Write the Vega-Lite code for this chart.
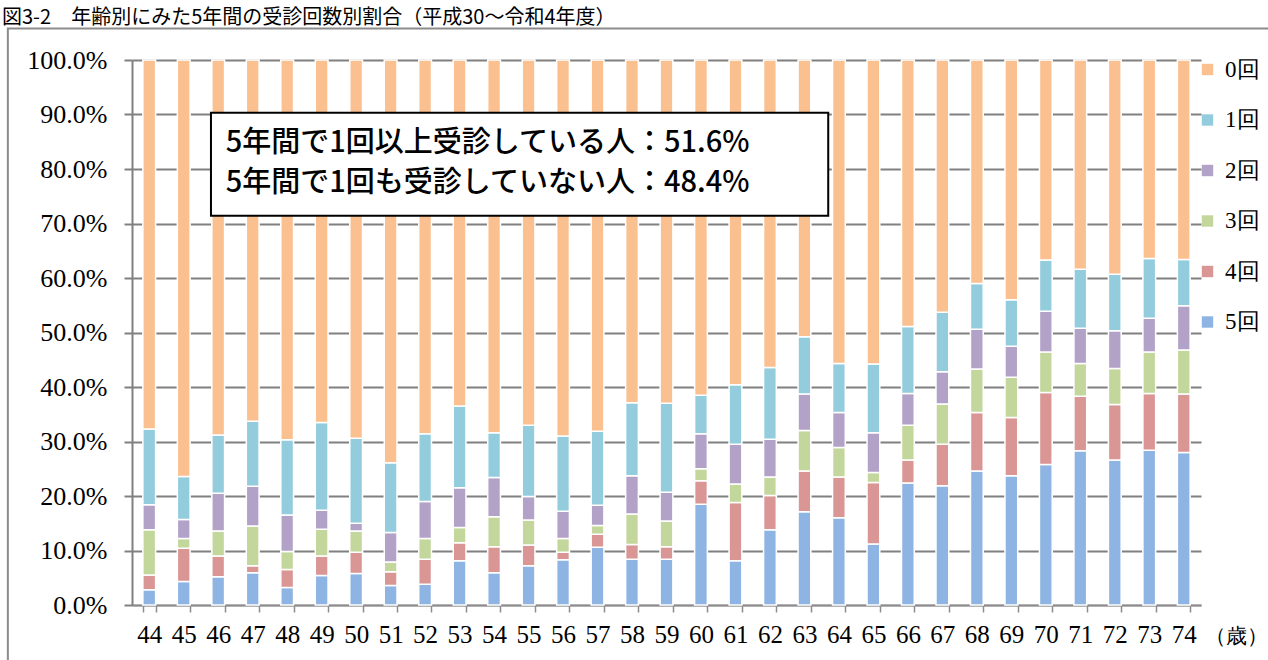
{
  "$schema": "https://vega.github.io/schema/vega-lite/v6.json",
  "width": 1069,
  "height": 545,
  "autosize": {"type": "none"},
  "padding": {"left": 132, "top": 60, "right": 67, "bottom": 55},
  "background": "white",
  "title": {
    "text": "図3-2　年齢別にみた5年間の受診回数別割合（平成30～令和4年度）",
    "anchor": "start",
    "frame": "group",
    "dx": -130,
    "dy": 23,
    "offset": 2,
    "baseline": "bottom",
    "font": "Noto Sans CJK JP",
    "fontSize": 20,
    "fontWeight": "normal",
    "color": "#000000"
  },
  "config": {"view": {"stroke": null}},
  "resolve": {"scale": {"x": "independent", "y": "independent"}},
  "layer": [
    {
      "data": {"values": [{}]},
      "mark": {"type": "rect", "fillOpacity": 0, "stroke": "#8c8c8c", "strokeWidth": 2},
      "encoding": {
        "x": {"datum": 39.9, "type": "quantitative", "scale": {"domain": [43.5, 74.5], "zero": false, "nice": false}, "axis": null},
        "x2": {"datum": 76.8},
        "y": {"datum": 1.058, "type": "quantitative", "scale": {"domain": [0, 1], "nice": false}, "axis": null},
        "y2": {"datum": -0.3}
      }
    },
    {
      "data": {"values": [
        {"age":44,"cat":"5回","v":2.8},{"age":44,"cat":"4回","v":2.7},{"age":44,"cat":"3回","v":8.3},{"age":44,"cat":"2回","v":4.6},{"age":44,"cat":"1回","v":13.9},{"age":44,"cat":"0回","v":67.7},
        {"age":45,"cat":"5回","v":4.3},{"age":45,"cat":"4回","v":6.1},{"age":45,"cat":"3回","v":1.8},{"age":45,"cat":"2回","v":3.5},{"age":45,"cat":"1回","v":7.9},{"age":45,"cat":"0回","v":76.4},
        {"age":46,"cat":"5回","v":5.2},{"age":46,"cat":"4回","v":3.8},{"age":46,"cat":"3回","v":4.6},{"age":46,"cat":"2回","v":6.9},{"age":46,"cat":"1回","v":10.7},{"age":46,"cat":"0回","v":68.8},
        {"age":47,"cat":"5回","v":5.9},{"age":47,"cat":"4回","v":1.3},{"age":47,"cat":"3回","v":7.3},{"age":47,"cat":"2回","v":7.3},{"age":47,"cat":"1回","v":11.9},{"age":47,"cat":"0回","v":66.3},
        {"age":48,"cat":"5回","v":3.2},{"age":48,"cat":"4回","v":3.3},{"age":48,"cat":"3回","v":3.3},{"age":48,"cat":"2回","v":6.7},{"age":48,"cat":"1回","v":13.8},{"age":48,"cat":"0回","v":69.7},
        {"age":49,"cat":"5回","v":5.4},{"age":49,"cat":"4回","v":3.6},{"age":49,"cat":"3回","v":4.9},{"age":49,"cat":"2回","v":3.5},{"age":49,"cat":"1回","v":16.1},{"age":49,"cat":"0回","v":66.5},
        {"age":50,"cat":"5回","v":5.8},{"age":50,"cat":"4回","v":3.9},{"age":50,"cat":"3回","v":3.9},{"age":50,"cat":"2回","v":1.4},{"age":50,"cat":"1回","v":15.6},{"age":50,"cat":"0回","v":69.4},
        {"age":51,"cat":"5回","v":3.6},{"age":51,"cat":"4回","v":2.5},{"age":51,"cat":"3回","v":1.8},{"age":51,"cat":"2回","v":5.4},{"age":51,"cat":"1回","v":12.8},{"age":51,"cat":"0回","v":73.9},
        {"age":52,"cat":"5回","v":3.8},{"age":52,"cat":"4回","v":4.6},{"age":52,"cat":"3回","v":3.8},{"age":52,"cat":"2回","v":6.8},{"age":52,"cat":"1回","v":12.4},{"age":52,"cat":"0回","v":68.6},
        {"age":53,"cat":"5回","v":8.1},{"age":53,"cat":"4回","v":3.3},{"age":53,"cat":"3回","v":2.8},{"age":53,"cat":"2回","v":7.3},{"age":53,"cat":"1回","v":15.0},{"age":53,"cat":"0回","v":63.5},
        {"age":54,"cat":"5回","v":5.9},{"age":54,"cat":"4回","v":4.8},{"age":54,"cat":"3回","v":5.5},{"age":54,"cat":"2回","v":7.2},{"age":54,"cat":"1回","v":8.2},{"age":54,"cat":"0回","v":68.4},
        {"age":55,"cat":"5回","v":7.2},{"age":55,"cat":"4回","v":3.8},{"age":55,"cat":"3回","v":4.6},{"age":55,"cat":"2回","v":4.3},{"age":55,"cat":"1回","v":13.1},{"age":55,"cat":"0回","v":67.0},
        {"age":56,"cat":"5回","v":8.3},{"age":56,"cat":"4回","v":1.4},{"age":56,"cat":"3回","v":2.5},{"age":56,"cat":"2回","v":5.0},{"age":56,"cat":"1回","v":13.8},{"age":56,"cat":"0回","v":69.0},
        {"age":57,"cat":"5回","v":10.6},{"age":57,"cat":"4回","v":2.4},{"age":57,"cat":"3回","v":1.6},{"age":57,"cat":"2回","v":3.7},{"age":57,"cat":"1回","v":13.6},{"age":57,"cat":"0回","v":68.1},
        {"age":58,"cat":"5回","v":8.4},{"age":58,"cat":"4回","v":2.7},{"age":58,"cat":"3回","v":5.6},{"age":58,"cat":"2回","v":7.0},{"age":58,"cat":"1回","v":13.4},{"age":58,"cat":"0回","v":62.9},
        {"age":59,"cat":"5回","v":8.4},{"age":59,"cat":"4回","v":2.3},{"age":59,"cat":"3回","v":4.7},{"age":59,"cat":"2回","v":5.3},{"age":59,"cat":"1回","v":16.3},{"age":59,"cat":"0回","v":63.0},
        {"age":60,"cat":"5回","v":18.5},{"age":60,"cat":"4回","v":4.3},{"age":60,"cat":"3回","v":2.2},{"age":60,"cat":"2回","v":6.4},{"age":60,"cat":"1回","v":7.1},{"age":60,"cat":"0回","v":61.5},
        {"age":61,"cat":"5回","v":8.1},{"age":61,"cat":"4回","v":10.7},{"age":61,"cat":"3回","v":3.4},{"age":61,"cat":"2回","v":7.3},{"age":61,"cat":"1回","v":10.9},{"age":61,"cat":"0回","v":59.6},
        {"age":62,"cat":"5回","v":13.8},{"age":62,"cat":"4回","v":6.3},{"age":62,"cat":"3回","v":3.4},{"age":62,"cat":"2回","v":6.9},{"age":62,"cat":"1回","v":13.2},{"age":62,"cat":"0回","v":56.4},
        {"age":63,"cat":"5回","v":17.1},{"age":63,"cat":"4回","v":7.5},{"age":63,"cat":"3回","v":7.4},{"age":63,"cat":"2回","v":6.7},{"age":63,"cat":"1回","v":10.5},{"age":63,"cat":"0回","v":50.8},
        {"age":64,"cat":"5回","v":16.0},{"age":64,"cat":"4回","v":7.5},{"age":64,"cat":"3回","v":5.4},{"age":64,"cat":"2回","v":6.4},{"age":64,"cat":"1回","v":9.0},{"age":64,"cat":"0回","v":55.7},
        {"age":65,"cat":"5回","v":11.2},{"age":65,"cat":"4回","v":11.3},{"age":65,"cat":"3回","v":1.8},{"age":65,"cat":"2回","v":7.3},{"age":65,"cat":"1回","v":12.6},{"age":65,"cat":"0回","v":55.8},
        {"age":66,"cat":"5回","v":22.4},{"age":66,"cat":"4回","v":4.2},{"age":66,"cat":"3回","v":6.4},{"age":66,"cat":"2回","v":5.8},{"age":66,"cat":"1回","v":12.3},{"age":66,"cat":"0回","v":48.9},
        {"age":67,"cat":"5回","v":21.9},{"age":67,"cat":"4回","v":7.6},{"age":67,"cat":"3回","v":7.4},{"age":67,"cat":"2回","v":5.9},{"age":67,"cat":"1回","v":10.9},{"age":67,"cat":"0回","v":46.3},
        {"age":68,"cat":"5回","v":24.6},{"age":68,"cat":"4回","v":10.7},{"age":68,"cat":"3回","v":8.0},{"age":68,"cat":"2回","v":7.3},{"age":68,"cat":"1回","v":8.4},{"age":68,"cat":"0回","v":41.0},
        {"age":69,"cat":"5回","v":23.7},{"age":69,"cat":"4回","v":10.7},{"age":69,"cat":"3回","v":7.4},{"age":69,"cat":"2回","v":5.7},{"age":69,"cat":"1回","v":8.5},{"age":69,"cat":"0回","v":44.0},
        {"age":70,"cat":"5回","v":25.8},{"age":70,"cat":"4回","v":13.2},{"age":70,"cat":"3回","v":7.4},{"age":70,"cat":"2回","v":7.5},{"age":70,"cat":"1回","v":9.4},{"age":70,"cat":"0回","v":36.7},
        {"age":71,"cat":"5回","v":28.3},{"age":71,"cat":"4回","v":10.0},{"age":71,"cat":"3回","v":6.0},{"age":71,"cat":"2回","v":6.5},{"age":71,"cat":"1回","v":10.8},{"age":71,"cat":"0回","v":38.4},
        {"age":72,"cat":"5回","v":26.6},{"age":72,"cat":"4回","v":10.2},{"age":72,"cat":"3回","v":6.6},{"age":72,"cat":"2回","v":6.9},{"age":72,"cat":"1回","v":10.4},{"age":72,"cat":"0回","v":39.3},
        {"age":73,"cat":"5回","v":28.4},{"age":73,"cat":"4回","v":10.4},{"age":73,"cat":"3回","v":7.6},{"age":73,"cat":"2回","v":6.2},{"age":73,"cat":"1回","v":11.0},{"age":73,"cat":"0回","v":36.4},
        {"age":74,"cat":"5回","v":28.0},{"age":74,"cat":"4回","v":10.7},{"age":74,"cat":"3回","v":8.1},{"age":74,"cat":"2回","v":8.1},{"age":74,"cat":"1回","v":8.5},{"age":74,"cat":"0回","v":36.6}
      ]},
      "mark": {"type": "bar", "stroke": "#ffffff", "strokeWidth": 1.5},
      "encoding": {
        "x": {
          "field": "age", "type": "ordinal",
          "scale": {"paddingInner": 0.63, "paddingOuter": 0.315},
          "axis": {
            "labelAngle": 0, "labelFont": "Liberation Serif", "labelFontSize": 25, "labelColor": "#000000",
            "labelPadding": 10, "tickSize": 7, "tickBand": "extent", "tickColor": "#8c8c8c", "tickWidth": 1.5,
            "domainColor": "#8c8c8c", "domainWidth": 1.5,
            "title": "（歳）", "titleX": 1104, "titleY": 31, "titleAlign": "center", "titleBaseline": "middle",
            "titleFont": "Liberation Serif", "titleFontSize": 21, "titleFontWeight": "normal", "titleColor": "#000000"
          }
        },
        "y": {
          "field": "v", "type": "quantitative", "stack": "normalize",
          "scale": {"domain": [0, 1], "nice": false},
          "axis": {
            "values": [0, 0.1, 0.2, 0.3, 0.4, 0.5, 0.6, 0.7, 0.8, 0.9, 1.0],
            "labelExpr": "format(datum.value, '.1%')", "title": null,
            "labelFont": "Liberation Serif", "labelFontSize": 26, "labelColor": "#000000", "labelPadding": 17,
            "tickSize": 8, "tickColor": "#808080", "tickWidth": 2,
            "domainColor": "#808080", "domainWidth": 2,
            "grid": true, "gridColor": "#808080", "gridWidth": 2, "gridOpacity": 1
          }
        },
        "color": {
          "field": "cat", "type": "nominal",
          "scale": {
            "domain": ["0回", "1回", "2回", "3回", "4回", "5回"],
            "range": ["#FAC090", "#93CDDD", "#B3A2C7", "#C3D69B", "#D99694", "#8EB4E3"]
          },
          "legend": {
            "orient": "none", "legendX": 1064, "legendY": -2, "title": null, "padding": 0,
            "symbolType": "square", "symbolSize": 130, "symbolStrokeWidth": 0,
            "labelFont": "Liberation Serif", "labelFontSize": 23, "labelColor": "#000000",
            "labelOffset": 6, "rowPadding": 26.5
          }
        },
        "order": {"field": "cat", "sort": "descending"}
      }
    },
    {
      "data": {"values": [{}]},
      "mark": {"type": "rect", "fill": "#ffffff", "stroke": "#000000", "strokeWidth": 2},
      "encoding": {
        "x": {"datum": 45.79, "type": "quantitative", "scale": {"domain": [43.5, 74.5], "zero": false, "nice": false}, "axis": null},
        "x2": {"datum": 63.69},
        "y": {"datum": 0.903, "type": "quantitative", "scale": {"domain": [0, 1], "nice": false}, "axis": null},
        "y2": {"datum": 0.714}
      }
    },
    {
      "data": {"values": [{}]},
      "mark": {
        "type": "text",
        "text": ["5年間で1回以上受診している人：51.6%", "5年間で1回も受診していない人：48.4%"],
        "align": "left", "baseline": "middle", "lineHeight": 40,
        "font": "Noto Sans CJK JP", "fontSize": 29, "fontWeight": 500, "color": "#000000"
      },
      "encoding": {
        "x": {"datum": 46.22, "type": "quantitative", "scale": {"domain": [43.5, 74.5], "zero": false, "nice": false}, "axis": null},
        "y": {"datum": 0.8477, "type": "quantitative", "scale": {"domain": [0, 1], "nice": false}, "axis": null}
      }
    }
  ]
}
